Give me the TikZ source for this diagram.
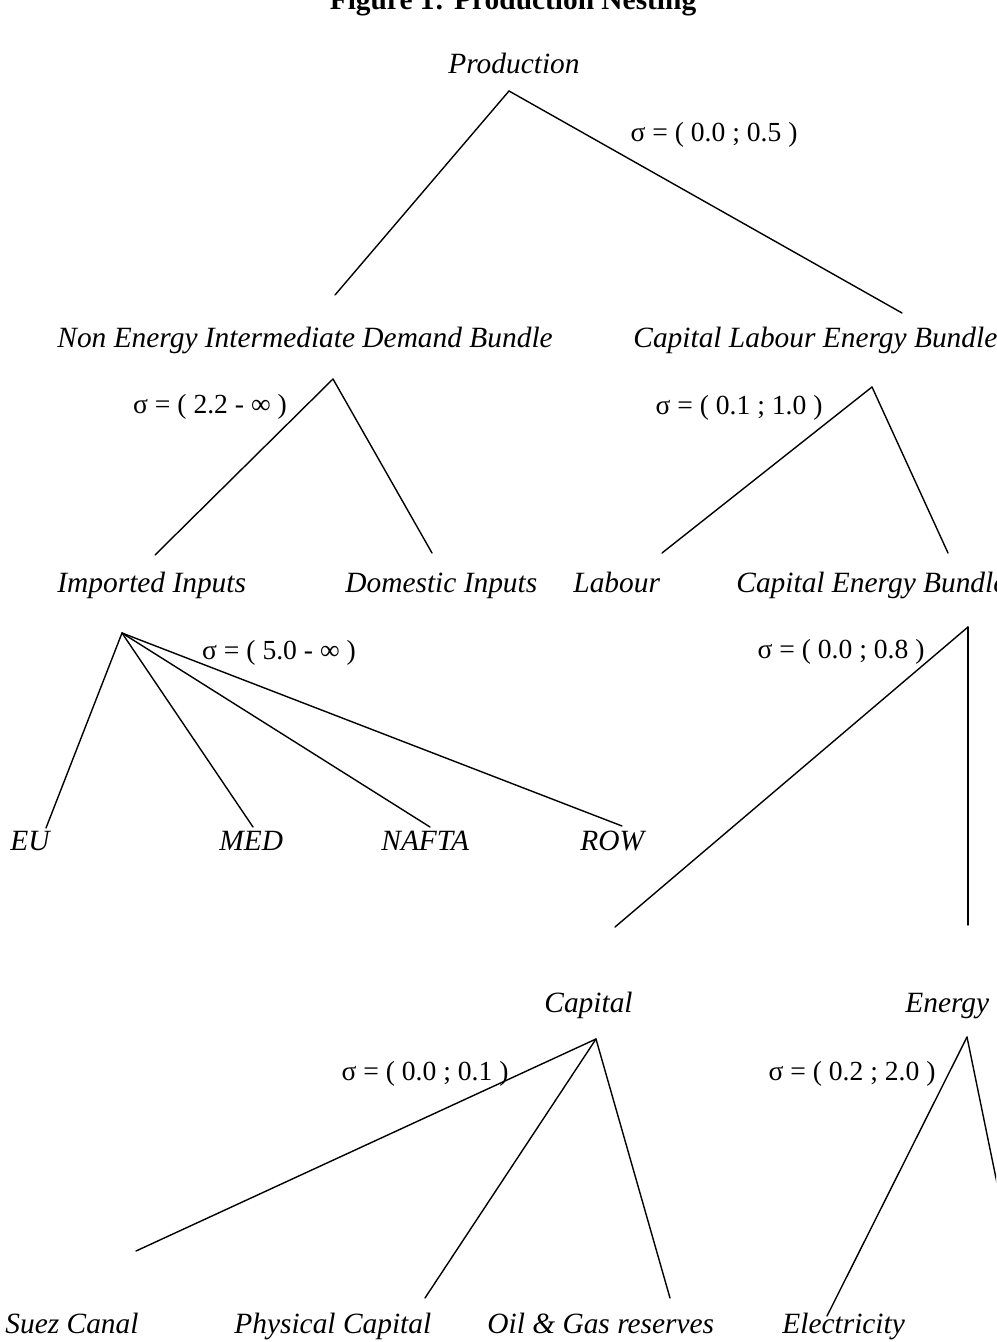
\documentclass[tikz,border=0pt]{standalone}
\usepackage{fontspec}
\setmainfont{Liberation Serif}
\tikzset{
  branch/.style={line width=0.7pt, line cap=round, line join=round},
  lbl-it/.style={anchor=base west, inner sep=0pt, font=\fontsize{14.7}{17}\selectfont\itshape},
  lbl-sigma/.style={anchor=base, inner sep=0pt, font=\fontsize{13.8}{17}\selectfont},
  lbl-title/.style={anchor=base, inner sep=0pt, font=\fontsize{14.7}{17}\selectfont\bfseries}
}

\begin{document}
\begin{tikzpicture}[x=0.5pt, y=-0.5pt]
  \useasboundingbox (0,0) rectangle (996,1342);
  \clip (0,0) rectangle (996,1342);
  % page title, cut by the frame
  \node[lbl-title] (title) at (513,10) {Figure 1: Production Nesting};
  % labels of the nest
  \node[lbl-it] (prod) at (448,74) {Production};
  \node[lbl-it] (neid) at (57,347) {Non Energy Intermediate Demand Bundle};
  \node[lbl-it] (cleb) at (633,347) {Capital Labour Energy Bundle};
  \node[lbl-it] (imp) at (57,592) {Imported Inputs};
  \node[lbl-it] (dom) at (345,592) {Domestic Inputs};
  \node[lbl-it] (lab) at (573,592) {Labour};
  \node[lbl-it] (ceb) at (736,592) {Capital Energy Bundle};
  \node[lbl-it] (eu) at (10,850) {EU};
  \node[lbl-it] (med) at (219,850) {MED};
  \node[lbl-it] (nafta) at (381,850) {NAFTA};
  \node[lbl-it] (row) at (580,850) {ROW};
  \node[lbl-it] (cap) at (544,1012) {Capital};
  \node[lbl-it] (en) at (905,1012) {Energy};
  \node[lbl-it] (suez) at (5,1333) {Suez Canal};
  \node[lbl-it] (phys) at (234,1333) {Physical Capital};
  \node[lbl-it] (oil) at (487,1333) {Oil \& Gas reserves};
  \node[lbl-it] (elec) at (782,1333) {Electricity};
  % elasticities
  \node[lbl-sigma] (s-prod) at (714,142) {σ = ( 0.0 ; 0.5 )};
  \node[lbl-sigma] (s-neid) at (210,413) {σ = ( 2.2 - ∞ )};
  \node[lbl-sigma] (s-cleb) at (739,414) {σ = ( 0.1 ; 1.0 )};
  \node[lbl-sigma] (s-imp) at (279,659) {σ = ( 5.0 - ∞ )};
  \node[lbl-sigma] (s-ceb) at (841,658) {σ = ( 0.0 ; 0.8 )};
  \node[lbl-sigma] (s-cap) at (425,1080) {σ = ( 0.0 ; 0.1 )};
  \node[lbl-sigma] (s-en) at (852,1080) {σ = ( 0.2 ; 2.0 )};
  % apexes and branch ends
  \coordinate (prod-a) at (509,91);
  \coordinate (neid-t) at (335,295);
  \coordinate (cleb-t) at (902,313);
  \coordinate (neid-a) at (333,379);
  \coordinate (imp-t) at (155,555);
  \coordinate (dom-t) at (432,553);
  \coordinate (cleb-a) at (872,387);
  \coordinate (lab-t) at (662,553);
  \coordinate (ceb-t) at (948,553);
  \coordinate (imp-a) at (122,633);
  \coordinate (eu-t) at (46,828);
  \coordinate (med-t) at (253,827);
  \coordinate (nafta-t) at (430,827);
  \coordinate (row-t) at (622,826);
  \coordinate (ceb-a) at (968,627);
  \coordinate (cap-t) at (615,927);
  \coordinate (en-t) at (968,925);
  \coordinate (cap-a) at (596,1039);
  \coordinate (suez-t) at (136,1251);
  \coordinate (phys-t) at (425,1298);
  \coordinate (oil-t) at (670,1298);
  \coordinate (en-a) at (967,1037);
  \coordinate (elec-t) at (827,1316);
  \coordinate (off-t) at (1021,1300);
  % branches
  \foreach \a/\b in {prod-a/neid-t, prod-a/cleb-t, neid-a/imp-t, neid-a/dom-t,
                     cleb-a/lab-t, cleb-a/ceb-t, imp-a/eu-t, imp-a/med-t,
                     imp-a/nafta-t, imp-a/row-t, ceb-a/cap-t, ceb-a/en-t,
                     cap-a/suez-t, cap-a/phys-t, cap-a/oil-t, en-a/elec-t, en-a/off-t} {
    \draw[branch] (\a) -- (\b);
  }
\end{tikzpicture}
\end{document}
